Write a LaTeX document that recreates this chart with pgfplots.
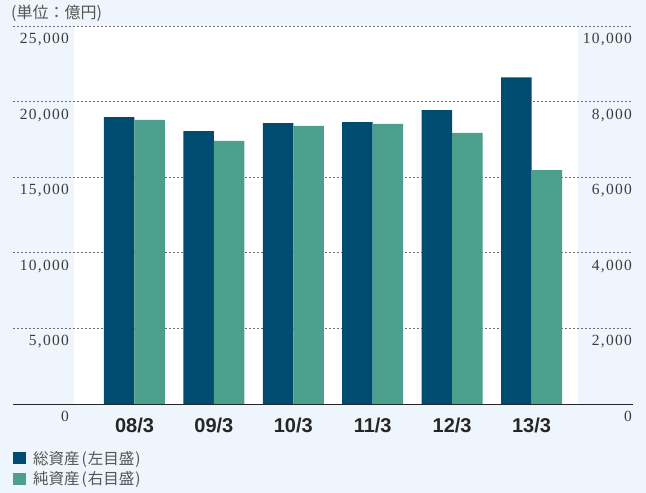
\documentclass[border=0pt]{standalone}
\usepackage{fontspec}
\setmainfont{Liberation Serif}
\newfontfamily\numfont[LetterSpace=8]{Liberation Serif}
\newfontfamily\catfont{Liberation Sans}
\newfontfamily\cjk{Noto Sans CJK JP}
\usepackage{pgfplots}
\usepackage{pgfplotstable}
\pgfplotsset{compat=1.18}
\definecolor{bgblue}{RGB}{238,245,252}
\definecolor{totalcol}{RGB}{0,76,112}
\definecolor{netcol}{RGB}{76,159,141}
\definecolor{gridcol}{RGB}{110,110,110}
\definecolor{labcol}{RGB}{60,60,60}
\definecolor{txtcol}{RGB}{85,85,85}

% 総資産 (left axis) and 純資産 (right axis), 億円
\pgfplotstableread{
x total net
0 18970 7515
1 18040 6960
2 18570 7360
3 18640 7410
4 19430 7170
5 21610 6190
}\assets

\pgfplotsset{
  common/.style={
    at={(13pt,89pt)}, anchor=south west,
    width=620pt, height=378pt, scale only axis,
    xmin=-1.530, xmax=6.278, ymin=0,
    major tick length=0pt,
    /pgf/number format/assume math mode=true,
    /pgf/number format/1000 sep={,},
    scaled y ticks=false,
    yticklabel style={anchor=north east, inner sep=0pt, yshift=-7pt,
      font=\numfont\fontsize{15.5}{16}\selectfont, text=labcol},
  },
  sqlegend/.style={legend image code/.code={\fill[##1] (0pt,-6pt) rectangle (13pt,6pt);}},
}

\begin{document}
\begin{tikzpicture}[x=1pt,y=1pt]
\fill[bgblue] (0,0) rectangle (646,493);
\fill[white] (74,89) rectangle (578,467);
\node[anchor=west, inner sep=0pt, text=txtcol, font=\cjk\fontsize{16}{18}\selectfont] at (11,480) {(単位：億円)};

\begin{axis}[common, ymax=25000, ytick={0,5000,...,25000},
  axis x line*=bottom, axis y line*=left,
  x axis line style={-, draw=black!85, line width=1pt},
  y axis line style={draw=none},
  ymajorgrids, grid style={gridcol, line width=0.9pt, dash pattern=on 2pt off 2pt},
  yticklabel style={xshift=56pt},
  xtick={0,...,5}, xticklabels={08/3,09/3,10/3,11/3,12/3,13/3},
  xticklabel style={anchor=north, inner sep=0pt, yshift=-14pt,
    font=\catfont\bfseries\fontsize{20}{22}\selectfont, text=black!85},
  legend cell align=left,
  legend style={at={(axis description cs:0,0)}, anchor=north west, yshift=-47pt,
    draw=none, fill=none, inner sep=0pt, row sep=6pt,
    font=\cjk\fontsize{15.5}{17}\selectfont, text=txtcol, nodes={inner sep=0pt},
    /tikz/every odd column/.append style={column sep=7pt}},
]
\addplot[ybar, bar width=30.5pt, bar shift=-15.25pt, fill=totalcol, draw=none, sqlegend]
  table[x=x, y=total] {\assets};
\addlegendentry{総資産\kern2pt(\kern1pt左目盛\kern1pt)}
\addlegendimage{fill=netcol, draw=none, sqlegend}
\addlegendentry{純資産\kern2pt(\kern1pt右目盛\kern1pt)}
\end{axis}

\begin{axis}[common, ymax=10000, ytick={0,2000,...,10000},
  axis x line=none, xtick=\empty, axis y line*=right,
  y axis line style={draw=none},
  yticklabel style={xshift=-1pt},
]
\addplot[ybar, bar width=30.5pt, bar shift=15.25pt, fill=netcol, draw=none]
  table[x=x, y=net] {\assets};
\end{axis}
\end{tikzpicture}
\end{document}
